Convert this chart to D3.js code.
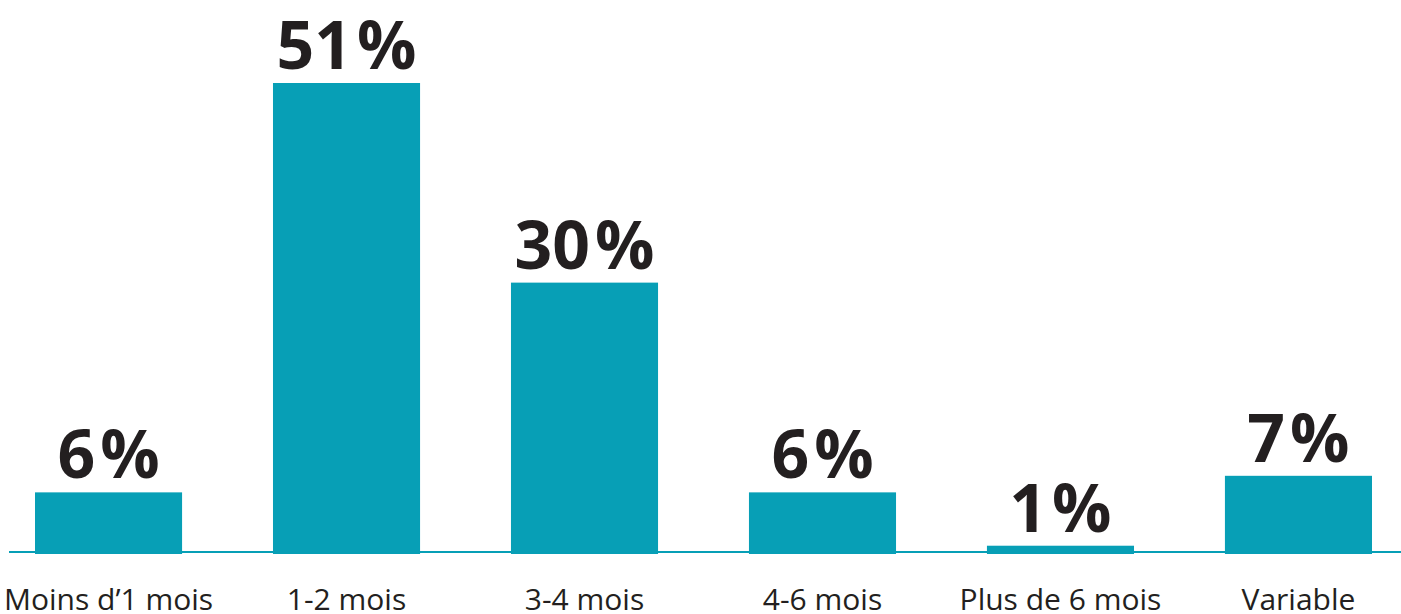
<!DOCTYPE html>
<html>
<head>
<meta charset="utf-8">
<script src="https://cdn.jsdelivr.net/npm/d3@7"></script>
<style>
  body { margin: 0; background: #fff; }
  svg { display: block; }
</style>
</head>
<body>
<svg id="chart" width="1401" height="614"></svg>
<script>
// categories and values
const categories = ["Moins d\u20191 mois", "1-2 mois", "3-4 mois", "4-6 mois", "Plus de 6 mois", "Variable"];
// bar heights as drawn (in %), estimated from the bars themselves
const values = [6.7, 51.2, 29.5, 6.7, 0.9, 8.5];
// printed numbers above the bars
const valueLabels = ["6", "51", "30", "6", "1", "7"];

const teal = "#079fb6";
const ink = "#231f20";

const svg = d3.select("#chart");
const width = +svg.attr("width");

const x = d3.scaleBand()
  .domain(categories)
  .range([35, 1372])
  .paddingInner(0.382)
  .paddingOuter(0);

const y = d3.scaleLinear()
  .domain([0, 51.2])
  .range([554, 83]);

// baseline
svg.append("line")
  .attr("x1", 9)
  .attr("x2", width)
  .attr("y1", y(0) - 2)
  .attr("y2", y(0) - 2)
  .attr("stroke", teal)
  .attr("stroke-width", 2);

svg.selectAll("rect.bar")
  .data(values)
  .enter()
  .append("rect")
  .attr("class", "bar")
  .attr("x", (d, i) => x(categories[i]))
  .attr("y", (d) => y(d))
  .attr("width", x.bandwidth())
  .attr("height", (d) => y(0) - y(d))
  .attr("fill", teal);

// value labels, the % sign sits a little apart from the digits
const vals = svg.selectAll("text.val")
  .data(values)
  .enter()
  .append("text")
  .attr("class", "val")
  .attr("x", (d, i) => x(categories[i]) + x.bandwidth() / 2)
  .attr("y", (d) => y(d) - 14)
  .attr("text-anchor", "middle")
  .attr("font-family", "'Open Sans', sans-serif")
  .attr("font-weight", 700)
  .attr("font-size", 66)
  .attr("fill", ink);
vals.append("tspan").text((d, i) => valueLabels[i]);
vals.append("tspan").attr("dx", 5).text("%");

// category labels
svg.selectAll("text.cat")
  .data(categories)
  .enter()
  .append("text")
  .attr("class", "cat")
  .attr("x", (d) => x(d) + x.bandwidth() / 2)
  .attr("y", 610)
  .attr("text-anchor", "middle")
  .attr("font-family", "'Open Sans', sans-serif")
  .attr("font-size", 30)
  .attr("fill", ink)
  .text((d) => d);
</script>
</body>
</html>
